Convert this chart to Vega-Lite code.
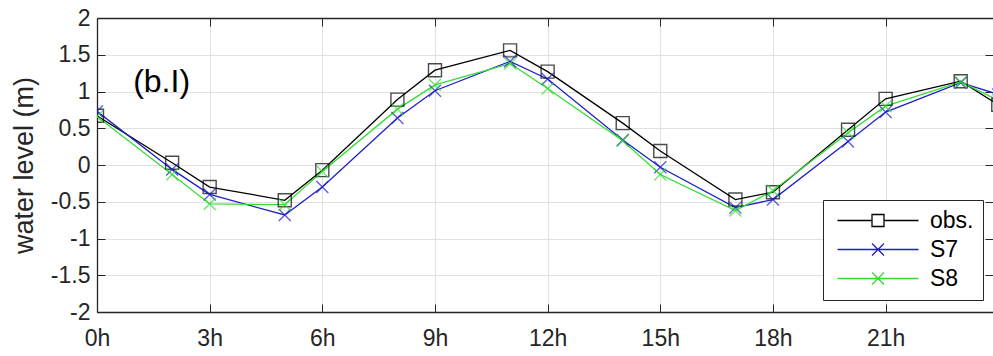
{
  "$schema": "https://vega.github.io/schema/vega-lite/v6.json",
  "width": 896,
  "height": 294,
  "autosize": {"type": "none"},
  "padding": {"left": 97, "top": 18, "right": 0, "bottom": 44},
  "background": "white",
  "config": {
    "view": {"stroke": null},
    "font": "Liberation Sans",
    "axis": {
      "labelFont": "Liberation Sans",
      "titleFont": "Liberation Sans",
      "labelFontSize": 23,
      "labelColor": "#262626",
      "titleColor": "#262626",
      "titleFontWeight": "normal",
      "domainColor": "#262626",
      "domainWidth": 1.3,
      "tickColor": "#262626",
      "tickWidth": 1,
      "gridColor": "#e1e1e1",
      "gridWidth": 1
    },
    "legend": {
      "title": null,
      "orient": "none",
      "legendX": 726,
      "legendY": 182,
      "padding": 9,
      "strokeColor": "#262626",
      "fillColor": "white",
      "symbolSize": 144,
      "symbolStrokeWidth": 1.3,
      "symbolOpacity": 1,
      "symbolFillColor": "transparent",
      "labelFontSize": 23,
      "labelFont": "Liberation Sans",
      "labelColor": "#000000",
      "labelOffset": 75,
      "rowPadding": 5
    }
  },
  "data": {
    "values": [
      {"hour": 0, "series": "obs.", "level": 0.67},
      {"hour": 2, "series": "obs.", "level": 0.03},
      {"hour": 3, "series": "obs.", "level": -0.30},
      {"hour": 5, "series": "obs.", "level": -0.48},
      {"hour": 6, "series": "obs.", "level": -0.07},
      {"hour": 8, "series": "obs.", "level": 0.89},
      {"hour": 9, "series": "obs.", "level": 1.29},
      {"hour": 11, "series": "obs.", "level": 1.56},
      {"hour": 12, "series": "obs.", "level": 1.27},
      {"hour": 14, "series": "obs.", "level": 0.57},
      {"hour": 15, "series": "obs.", "level": 0.19},
      {"hour": 17, "series": "obs.", "level": -0.47},
      {"hour": 18, "series": "obs.", "level": -0.37},
      {"hour": 20, "series": "obs.", "level": 0.48},
      {"hour": 21, "series": "obs.", "level": 0.90},
      {"hour": 23, "series": "obs.", "level": 1.14},
      {"hour": 24, "series": "obs.", "level": 0.82},
      {"hour": 0, "series": "S7", "level": 0.73},
      {"hour": 2, "series": "S7", "level": -0.06},
      {"hour": 3, "series": "S7", "level": -0.40},
      {"hour": 5, "series": "S7", "level": -0.68},
      {"hour": 6, "series": "S7", "level": -0.30},
      {"hour": 8, "series": "S7", "level": 0.64},
      {"hour": 9, "series": "S7", "level": 1.01},
      {"hour": 11, "series": "S7", "level": 1.41},
      {"hour": 12, "series": "S7", "level": 1.17},
      {"hour": 14, "series": "S7", "level": 0.34},
      {"hour": 15, "series": "S7", "level": -0.03},
      {"hour": 17, "series": "S7", "level": -0.58},
      {"hour": 18, "series": "S7", "level": -0.47},
      {"hour": 20, "series": "S7", "level": 0.32},
      {"hour": 21, "series": "S7", "level": 0.72},
      {"hour": 23, "series": "S7", "level": 1.12},
      {"hour": 24, "series": "S7", "level": 0.96},
      {"hour": 0, "series": "S8", "level": 0.66},
      {"hour": 2, "series": "S8", "level": -0.13},
      {"hour": 3, "series": "S8", "level": -0.53},
      {"hour": 5, "series": "S8", "level": -0.54},
      {"hour": 6, "series": "S8", "level": -0.09},
      {"hour": 8, "series": "S8", "level": 0.76},
      {"hour": 9, "series": "S8", "level": 1.09},
      {"hour": 11, "series": "S8", "level": 1.38},
      {"hour": 12, "series": "S8", "level": 1.04},
      {"hour": 14, "series": "S8", "level": 0.33},
      {"hour": 15, "series": "S8", "level": -0.13},
      {"hour": 17, "series": "S8", "level": -0.62},
      {"hour": 18, "series": "S8", "level": -0.35},
      {"hour": 20, "series": "S8", "level": 0.44},
      {"hour": 21, "series": "S8", "level": 0.80},
      {"hour": 23, "series": "S8", "level": 1.13},
      {"hour": 24, "series": "S8", "level": 0.88}
    ]
  },
  "resolve": {"axis": {"x": "independent", "y": "independent"}},
  "layer": [
    {
      "mark": {"type": "line", "strokeWidth": 1.3, "clip": true},
      "encoding": {
        "x": {
          "field": "hour", "type": "quantitative",
          "scale": {"domain": [0, 23.86], "nice": false, "zero": false},
          "axis": {
            "values": [0, 3, 6, 9, 12, 15, 18, 21],
            "labelExpr": "datum.value + 'h'",
            "title": null,
            "grid": true,
            "tickSize": -8,
            "labelPadding": 23,
            "labelFlush": false,
            "orient": "bottom"
          }
        },
        "y": {
          "field": "level", "type": "quantitative",
          "scale": {"domain": [-2, 2], "nice": false},
          "axis": {
            "values": [-2, -1.5, -1, -0.5, 0, 0.5, 1, 1.5, 2],
            "labelExpr": "'' + datum.value",
            "title": "water level (m)",
            "titleFontSize": 27,
            "titlePadding": 12,
            "grid": true,
            "tickSize": -8,
            "labelPadding": 15,
            "orient": "left"
          }
        },
        "color": {
          "field": "series", "type": "nominal",
          "scale": {"domain": ["obs.", "S7", "S8"], "range": ["#000000", "#1f1fc8", "#33dd33"]}
        },
        "detail": {"field": "series"},
        "order": {"field": "hour"}
      }
    },
    {
      "transform": [{"filter": "datum.series == 'obs.'"}],
      "mark": {"type": "point", "shape": "square", "filled": false, "size": 169, "strokeWidth": 1.4, "clip": true, "color": "#000000"},
      "encoding": {
        "x": {"field": "hour", "type": "quantitative", "axis": null},
        "y": {"field": "level", "type": "quantitative", "axis": null}
      }
    },
    {
      "transform": [{"filter": "datum.series != 'obs.'"}],
      "mark": {"type": "point", "shape": "M-1,-1L1,1M-1,1L1,-1", "filled": false, "size": 144, "strokeWidth": 1.4, "clip": true},
      "encoding": {
        "x": {"field": "hour", "type": "quantitative", "axis": null},
        "y": {"field": "level", "type": "quantitative", "axis": null},
        "color": {"field": "series", "type": "nominal"}
      }
    },
    {
      "data": {"values": [{"label": "(b.I)"}]},
      "mark": {"type": "text", "fontSize": 32, "font": "Liberation Sans", "fontWeight": "normal", "align": "center", "baseline": "middle", "fill": "#000000"},
      "encoding": {
        "text": {"field": "label"},
        "x": {"datum": 1.72, "type": "quantitative", "axis": null},
        "y": {"datum": 1.13, "type": "quantitative", "axis": null}
      }
    },
    {
      "mark": {"type": "point", "filled": false, "strokeWidth": 1.3, "opacity": 0},
      "encoding": {
        "x": {
          "field": "hour", "type": "quantitative",
          "axis": {"orient": "top", "values": [0, 3, 6, 9, 12, 15, 18, 21], "labels": false, "grid": false, "tickSize": -8, "title": null, "domain": true}
        },
        "y": {
          "field": "level", "type": "quantitative",
          "axis": {"orient": "right", "values": [-2, -1.5, -1, -0.5, 0, 0.5, 1, 1.5, 2], "labels": false, "grid": false, "tickSize": -8, "title": null, "domain": false}
        },
        "color": {"field": "series", "type": "nominal"},
        "shape": {
          "field": "series", "type": "nominal",
          "scale": {
            "domain": ["obs.", "S7", "S8"],
            "range": [
              "M-1,0H4.75M6.75,0H12.5M4.75,-1H6.75V1H4.75Z",
              "M-1,0H12.5M4.75,-1L6.75,1M4.75,1L6.75,-1",
              "M-1,0H12.5M4.75,-1L6.75,1M4.75,1L6.75,-1"
            ]
          }
        }
      }
    }
  ]
}
